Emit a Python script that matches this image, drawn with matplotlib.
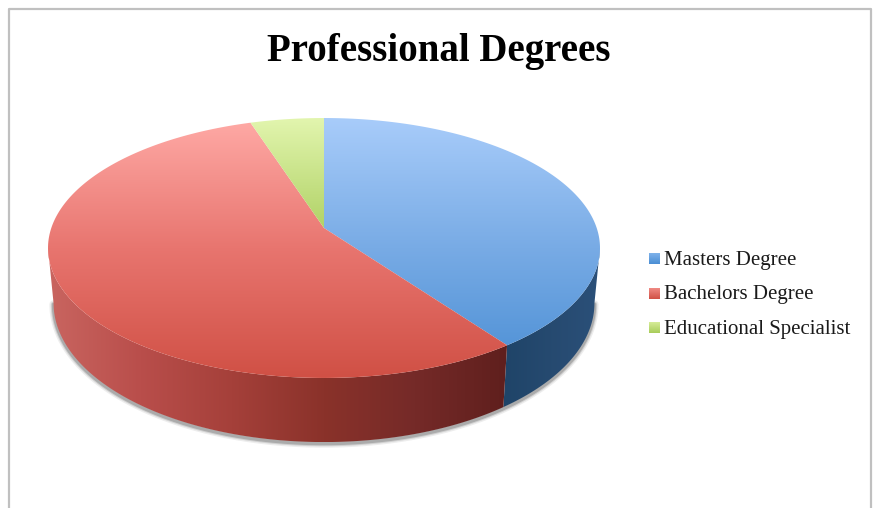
import matplotlib
matplotlib.use('Agg')
import matplotlib.pyplot as plt
import numpy as np
from matplotlib.colors import LinearSegmentedColormap
from matplotlib.patches import Polygon

title = 'Professional Degrees'
labels = ['Masters Degree', 'Bachelors Degree', 'Educational Specialist']
values = [40, 55, 5]

# vertical gradient of the top face, light to dark
top_colors = [
    ['#a8ccfa', '#78abe5', '#4a8ed4'],
    ['#ffaaa6', '#e8756f', '#d05045'],
    ['#e2f5ae', '#a8cc5a', '#a8cc5a'],
]
# horizontal gradient of the rim, left to right
side_colors = [
    ['#1f4468', '#264a70', '#2b5079'],
    ['#c96560', '#b94e4b', '#a5403a', '#8a322a', '#752a28', '#5f1f1d'],
    ['#7a9a3a', '#7a9a3a'],
]
swatch_colors = [['#7fb2ea', '#4a8ed4'], ['#f08a84', '#d05045'], ['#d6ec98', '#a8cc5a']]

# pie geometry in picture pixels
CX, CY = 324, 228
A, H, K = 272.7, 126.9, 0.1538
RIM_X, RIM_Y, RIM_DY = 0.98, 1.07, 53.6


def top_edge(theta):
    u, v = np.sin(theta), np.cos(theta)
    d = 1 + K * v
    return CX + A * u / d, CY - H * v / d


def low_edge(theta):
    u, v = np.sin(theta), np.cos(theta)
    d = 1 + K * v
    return CX + RIM_X * A * u / d, CY + RIM_DY - RIM_Y * H * v / d


def gradient_fill(ax, verts, colors, vertical=True, zorder=2):
    cmap = LinearSegmentedColormap.from_list('g', colors)
    grad = np.linspace(0, 1, 256)
    grad = grad[:, None] if vertical else grad[None, :]
    xs, ys = verts[:, 0], verts[:, 1]
    extent = (xs.min(), xs.max(), ys.max(), ys.min())
    im = ax.imshow(grad, cmap=cmap, extent=extent, aspect='auto', zorder=zorder, origin='upper')
    patch = Polygon(verts, closed=True, transform=ax.transData, facecolor='none', edgecolor='none')
    ax.add_patch(patch)
    im.set_clip_path(patch)


fig = plt.figure(figsize=(8.74, 5.08), dpi=100)
ax = fig.add_axes([0, 0, 1, 1])
ax.axis('off')

# chart frame, open at the bottom
ax.plot([9, 9, 871, 871], [508, 8.5, 8.5, 508], color='#c0c0c0', lw=1.6, zorder=1)

edges = np.deg2rad(np.cumsum([0] + values) / sum(values) * 360)

# rim is visible between the two widest points of the disc
vis_lo, vis_hi = np.deg2rad(98.8), np.deg2rad(261.2)

# soft shadow under the rim
t = np.linspace(vis_lo, vis_hi, 300)
lx, ly = low_edge(t)
for lw, alpha in [(6, 0.10), (4, 0.18), (2.5, 0.3)]:
    ax.plot(lx, ly + 1.5, color='#555555', lw=lw, alpha=alpha, zorder=1.5, solid_capstyle='round')

# rim
for i in range(len(values)):
    lo, hi = max(edges[i], vis_lo), min(edges[i + 1], vis_hi)
    if lo >= hi:
        continue
    t = np.linspace(lo, hi, 200)
    tx, ty = top_edge(t)
    bx, by = low_edge(t[::-1])
    verts = np.column_stack([np.r_[tx, bx], np.r_[ty, by]])
    gradient_fill(ax, verts, side_colors[i], vertical=False, zorder=2)

# top faces
for i in range(len(values)):
    t = np.linspace(edges[i], edges[i + 1], 300)
    tx, ty = top_edge(t)
    verts = np.column_stack([np.r_[CX, tx], np.r_[CY, ty]])
    # the gradient spans the whole disc, so build it over the full height
    tfull = np.linspace(0, 2 * np.pi, 400)
    fx, fy = top_edge(tfull)
    cmap = LinearSegmentedColormap.from_list('g', top_colors[i])
    im = ax.imshow(np.linspace(0, 1, 256)[:, None], cmap=cmap, aspect='auto', zorder=3,
                   extent=(fx.min(), fx.max(), fy.max(), fy.min()), origin='upper')
    patch = Polygon(verts, closed=True, transform=ax.transData, facecolor='none', edgecolor='none')
    ax.add_patch(patch)
    im.set_clip_path(patch)

ax.text(439, 51, title, ha='center', va='center', fontsize=28, fontweight='bold',
        family='Liberation Serif', color='black', zorder=5)

# legend
for i, label in enumerate(labels):
    y = 258.5 + i * 34.7
    sq = np.array([[649, y - 5.5], [660, y - 5.5], [660, y + 5.5], [649, y + 5.5]])
    gradient_fill(ax, sq, swatch_colors[i], zorder=5)
    ax.text(664, y + 1.5, label, ha='left', va='center', fontsize=15, family='Liberation Serif',
            color='#1a1a1a', zorder=5)

ax.set_xlim(0, 874)
ax.set_ylim(508, 0)
fig.savefig('out.png', dpi=100)
